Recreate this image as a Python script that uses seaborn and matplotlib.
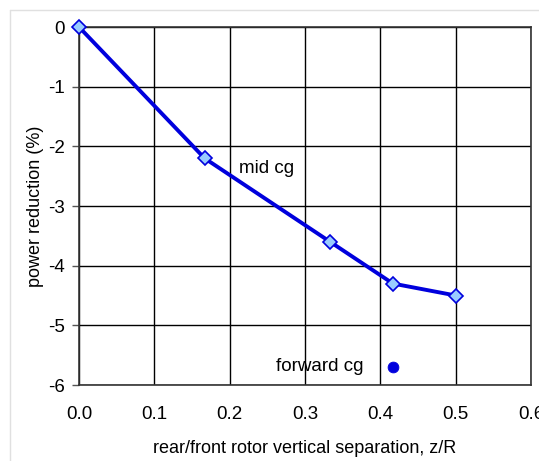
import matplotlib
matplotlib.use("Agg")
import matplotlib.pyplot as plt
import seaborn as sns
import pandas as pd
from matplotlib.lines import Line2D

sns.set_theme(style="white")
plt.rcParams['font.family'] = ['Liberation Sans', 'DejaVu Sans']
plt.rcParams['text.color'] = 'black'
plt.rcParams['axes.labelcolor'] = 'black'
plt.rcParams['xtick.color'] = 'black'
plt.rcParams['ytick.color'] = 'black'

# data
separation = [0.0, 0.1667, 0.3333, 0.4167, 0.5]
power_mid = [0.0, -2.2, -3.6, -4.3, -4.5]
fwd_sep = [0.4167]
fwd_power = [-5.7]
xticks = [0.0, 0.1, 0.2, 0.3, 0.4, 0.5, 0.6]
yticks = [0, -1, -2, -3, -4, -5, -6]

df_mid = pd.DataFrame({"sep": separation, "power": power_mid})
df_fwd = pd.DataFrame({"sep": fwd_sep, "power": fwd_power})

fig = plt.figure(figsize=(5.39, 4.61), dpi=100)
ax = fig.add_axes([79/539, 1-385/461, (531-79)/539, (385-27)/461])

# faint figure border
fig.add_artist(Line2D([10/539, 10/539], [0, 1-10/461], transform=fig.transFigure,
                      color="#e0e0e0", lw=1))
fig.add_artist(Line2D([10/539, 1], [1-10/461, 1-10/461], transform=fig.transFigure,
                      color="#e0e0e0", lw=1))

sns.lineplot(data=df_mid, x="sep", y="power", ax=ax, color="#0000dd", lw=2.8,
             marker="D", markersize=7, markerfacecolor="#99ccff",
             markeredgecolor="#0000dd", markeredgewidth=1.2, clip_on=False, zorder=5)
sns.scatterplot(data=df_fwd, x="sep", y="power", ax=ax, color="#0000dd", s=60,
                edgecolor="#0000dd", zorder=5, clip_on=False)

ax.set_xlim(0, 0.6)
ax.set_ylim(-6, 0)
ax.set_xticks(xticks)
ax.set_xticklabels([f"{v:.1f}" for v in xticks])
ax.set_yticks(yticks)
ax.set_yticklabels([str(v) for v in yticks])
ax.grid(True, color="black", lw=1)
ax.set_axisbelow(True)
for s in ax.spines.values():
    s.set_color("#333333")
    s.set_linewidth(1.2)
ax.tick_params(axis="y", left=True, length=5, width=1, color="#555555", labelsize=13.5, pad=5)
ax.tick_params(axis="x", bottom=False, labelsize=13.5, pad=9)

ax.set_xlabel("rear/front rotor vertical separation, z/R", fontsize=13, labelpad=12)
ax.set_ylabel("power reduction (%)", fontsize=13, labelpad=3)

ax.text(0.212, -2.37, "mid cg", fontsize=13.5, va="center", ha="left")
ax.text(0.262, -5.69, "forward cg", fontsize=13.5, va="center", ha="left")

fig.savefig("out.png", dpi=100)
